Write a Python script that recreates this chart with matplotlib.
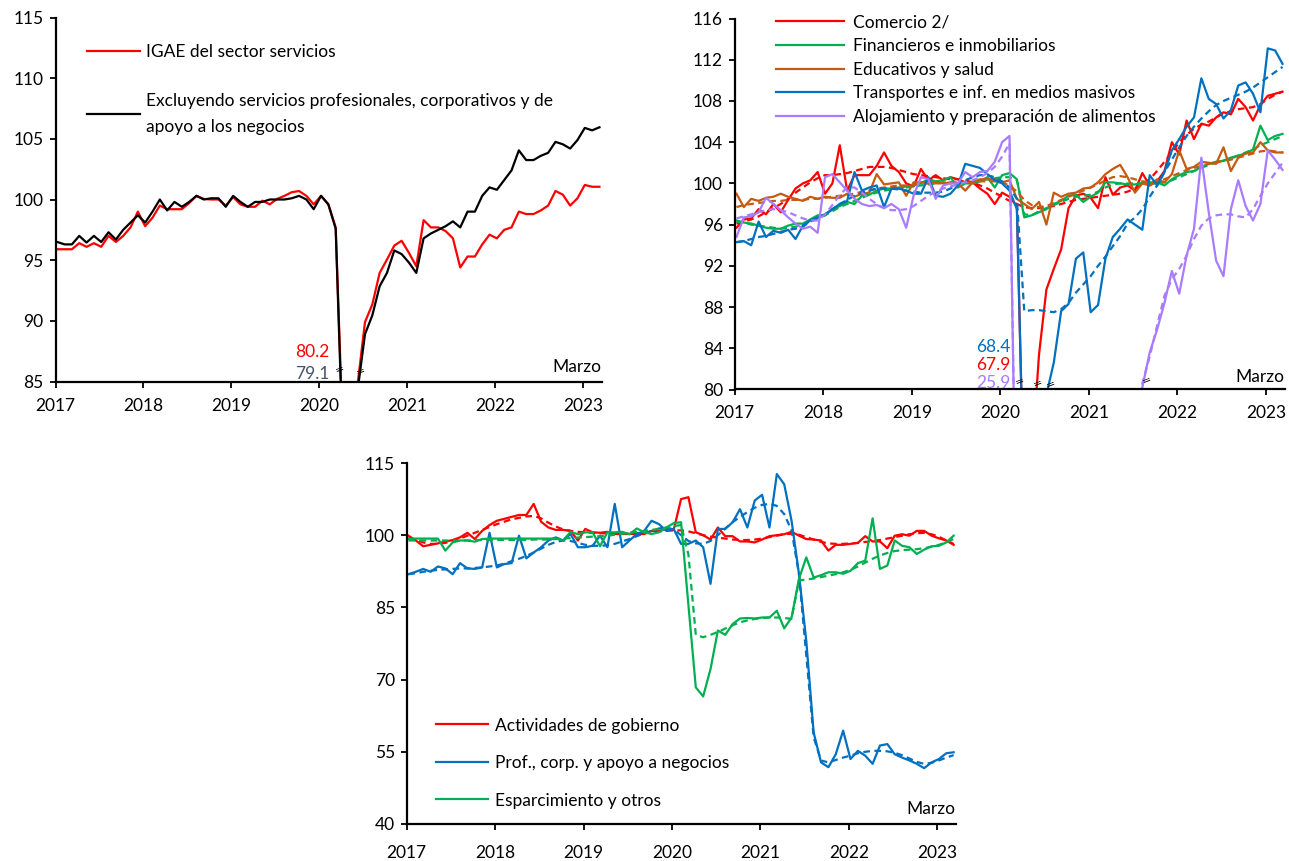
import numpy as np
import matplotlib
matplotlib.use("Agg")
import matplotlib.pyplot as plt

plt.rcParams['font.family'] = ['Lato', 'DejaVu Sans']

# ---------------- data (monthly, Jan 2017 .. Mar 2023) ----------------
years = [2017, 2018, 2019, 2020, 2021, 2022, 2023]
n_months = 75

# Panel 1
igae_servicios = [95.9, 95.9, 95.9, 96.4, 96.1, 96.4, 96.1, 97.0, 96.5, 97.0, 97.7, 99.0, 97.8, 98.5, 99.5, 99.2,
                  99.2, 99.2, 99.7, 100.3, 100.05, 100.0, 100.0, 99.5, 100.2, 99.6, 99.4, 99.4, 99.9, 99.6, 100.05,
                  100.3, 100.6, 100.7, 100.3, 99.6, 100.3, 99.6, 97.7,
                  80.2, 81.0, 84.8,
                  89.9, 91.35, 93.95, 95.05, 96.2, 96.6, 95.6, 94.5, 98.3, 97.7, 97.7, 97.4, 96.8, 94.4, 95.3, 95.3,
                  96.3, 97.1, 96.8, 97.5, 97.7, 99.0, 98.8, 98.8, 99.1, 99.5, 100.7, 100.4, 99.5, 100.1, 101.2,
                  101.05, 101.05]
excl_profesionales = [96.5, 96.3, 96.3, 97.0, 96.45, 97.0, 96.5, 97.3, 96.7, 97.5, 98.1, 98.7, 98.1, 99.0, 100.0,
                      99.1, 99.8, 99.4, 99.8, 100.3, 100.0, 100.1, 100.1, 99.4, 100.3, 99.8, 99.4, 99.8, 99.8, 100.0,
                      100.0, 100.0, 100.1, 100.3, 100.0, 99.2, 100.3, 99.6, 97.6,
                      79.1, 80.0, 84.3,
                      88.9, 90.45, 92.85, 93.95, 95.8, 95.5, 94.8, 93.95, 96.8, 97.2, 97.5, 97.8, 98.2, 97.7, 99.0,
                      99.0, 100.3, 101.0, 100.8, 101.6, 102.4, 104.05, 103.25, 103.25, 103.6, 103.85, 104.75, 104.55,
                      104.2, 104.9, 105.9, 105.7, 105.95]

# Panel 2
comercio = [95.7, 96.5, 96.6, 97.5, 97.0, 98.0, 97.2, 98.4, 99.5, 100.0, 100.3, 101.1, 99.0, 100.0, 103.7,
            99.3, 100.8, 100.8, 100.8, 101.7, 103.0, 101.7, 101.1, 100.0, 99.7, 101.4, 100.3, 100.8, 100.3, 100.6,
            100.4, 100.1, 100.1, 99.5, 99.0, 98.0, 99.1, 98.7, 97.8,
            67.9, 73.0, 83.4,
            89.7, 91.7, 93.6, 97.6, 98.8, 99.0, 98.6, 97.6, 100.6, 98.9, 99.6, 99.8, 99.3, 101.0, 99.8, 100.2, 101.2,
            104.0, 102.8, 106.1, 104.3, 105.8, 105.6, 106.4, 106.9, 106.7, 108.2, 107.4, 106.1, 107.6, 108.5, 108.7,
            108.9]
comercio_tend = [96.1, 96.3, 96.5, 96.8, 97.2, 97.6, 98.0, 98.5, 99.1, 99.6, 100.1, 100.5, 100.8, 100.8, 100.9,
                 101.0, 101.2, 101.4, 101.6, 101.6, 101.6, 101.5, 101.3, 101.1, 100.9, 100.8, 100.7, 100.6, 100.5,
                 100.4, 100.4, 100.3, 100.1, 99.8, 99.5, 99.1, 98.7, 98.3, 98.0,
                 97.7, 97.6, 97.6, 97.7, 97.8, 98.0, 98.2, 98.4, 98.5, 98.6, 98.7, 98.8, 98.9, 99.0, 99.2, 99.5, 99.9,
                 100.4, 101.2, 102.1,
                 103.0, 104.0, 104.7, 105.3, 105.7, 106.0, 106.4, 106.8, 107.0, 107.2, 107.3, 107.4, 107.7, 108.2,
                 108.6, 108.9]
financieros = [96.4, 96.2, 96.1, 95.9, 95.7, 95.6, 95.6, 95.9, 96.1, 96.1, 96.5, 96.9, 96.9, 97.5, 97.8, 98.2,
               98.0, 98.8, 98.9, 99.3, 99.5,
               99.5, 99.6, 99.7, 99.8, 100.0, 100.4, 100.2, 100.3, 100.6, 99.6, 100.0, 100.0, 100.2, 100.6, 99.6,
               100.8, 101.0, 100.4,
               96.7, 96.9, 97.2, 97.5, 98.0, 98.3, 98.8, 98.9, 98.2, 98.7, 99.1, 100.1, 100.1, 100.0, 99.9, 99.9,
               100.0, 100.1, 100.1, 99.8,
               100.4, 100.8, 101.1, 101.2, 101.6, 101.9, 102.1, 102.2, 102.5, 102.7, 102.9, 103.3, 105.6, 104.2,
               104.6, 104.8]
financieros_tend = [96.3, 96.2, 96.0, 95.9, 95.8, 95.7, 95.6, 95.7, 95.8, 96.0, 96.3, 96.6, 96.9, 97.3, 97.7, 98.0,
                    98.3, 98.6, 98.9, 99.1, 99.3, 99.4, 99.5, 99.6, 99.7, 99.8, 99.9, 100.0, 100.1, 100.1, 100.1,
                    100.1, 100.2, 100.3, 100.4, 100.5, 100.6, 100.6, 100.3,
                    97.0, 96.9, 97.3, 97.6, 97.9, 98.2, 98.5, 98.7, 98.8, 98.9, 99.2, 99.6, 99.9, 100.0, 100.0, 100.0,
                    100.0, 100.0, 100.0, 100.1,
                    100.3, 100.6, 100.9, 101.2, 101.5, 101.8, 102.0, 102.2, 102.4, 102.7, 103.0, 103.3, 103.7, 104.0,
                    104.3, 104.6]
educativos = [99.0, 97.7, 98.5, 98.3, 98.6, 98.7, 99.0, 98.7, 98.5, 98.3, 98.7, 98.5, 98.7, 98.6, 98.6, 99.0, 98.7,
              99.0, 99.1, 100.9, 99.9,
              100.0, 100.1, 98.8, 100.1, 100.1, 100.2, 100.1, 100.0, 100.1, 100.0, 99.3, 100.1, 100.4, 100.4, 100.4,
              100.1, 100.3, 98.5,
              98.0, 97.5, 98.2, 96.0, 99.1, 98.7, 99.0, 99.1, 99.5, 99.6, 100.1, 100.9, 101.4, 101.8, 100.6, 99.1,
              100.0, 99.8, 100.4, 100.1,
              100.9, 103.2, 101.4, 101.6, 102.1, 102.0, 101.9, 103.5, 101.2, 102.5, 102.9, 103.0, 104.0, 103.2, 103.0,
              103.0]
educativos_tend = [97.7, 97.9, 98.0, 98.1, 98.2, 98.3, 98.3, 98.4, 98.4, 98.4, 98.5, 98.5, 98.6, 98.7, 98.8, 98.9,
                   99.0, 99.2, 99.3, 99.5, 99.6, 99.7, 99.8, 99.8, 99.9, 99.9, 100.0, 100.0, 100.0, 100.0, 100.0,
                   100.1, 100.1, 100.2, 100.2, 100.2, 100.1, 99.8, 99.2,
                   98.4, 97.9, 97.7, 97.8, 98.1, 98.4, 98.7, 99.0, 99.3, 99.6, 99.9, 100.3, 100.6, 100.7, 100.6, 100.4,
                   100.2, 100.1, 100.2, 100.4,
                   100.7, 101.0, 101.3, 101.5, 101.7, 101.9, 102.0, 102.2, 102.3, 102.5, 102.7, 102.9, 103.1, 103.2,
                   103.1, 103.0]
transportes = [94.3, 94.4, 94.0, 96.3, 94.8, 95.4, 95.2, 95.5, 94.6, 95.9, 96.4, 96.7, 97.0, 97.5, 98.0, 98.3, 101.1,
               99.3, 99.6, 99.8, 97.7, 99.5, 99.5, 99.3, 99.0, 99.0, 100.6, 98.8, 98.7, 99.0, 99.8, 101.9, 101.7, 101.5,
               100.9, 100.3, 100.0, 99.3, 97.5,
               68.4, 70.0, 75.0, 79.5, 82.6,
               87.6, 88.3, 92.7, 93.3, 87.5, 88.2, 92.7, 94.8, 95.6, 96.5, 96.0, 95.5, 100.8, 99.8, 101.1,
               103.2, 104.3, 105.5, 106.4, 110.2, 108.2, 107.7, 106.3, 107.1, 109.5, 109.8, 108.7, 106.9, 113.1, 112.9,
               111.6]
transportes_tend = [94.3, 94.4, 94.6, 94.8, 94.9, 95.1, 95.3, 95.5, 95.6, 95.8, 96.3, 96.6, 97.0, 97.5, 98.0, 98.4,
                    98.8, 99.1, 99.3, 99.5, 99.5, 99.5, 99.4, 99.3, 99.2, 99.1, 99.1, 99.1, 99.2, 99.5, 99.9, 100.3,
                    100.6, 100.8, 100.8, 100.6, 100.2, 99.6, 98.5,
                    87.6, 87.7, 87.7, 87.6, 87.5, 87.8, 88.4, 89.4, 90.2, 91.0, 92.0, 92.9, 93.9, 94.9, 96.1, 96.7,
                    97.5, 98.7, 99.8, 101.1,
                    102.3, 103.5, 104.6, 105.5, 106.3, 107.0, 107.6, 108.0, 108.3, 108.6, 108.9, 109.3, 109.8, 110.3,
                    110.8, 111.3]
alojamiento = [94.8, 96.7, 96.8, 97.2, 98.6, 98.0, 97.4, 96.7, 96.1, 95.6, 95.8, 95.2, 100.6, 100.9, 100.1, 99.3,
               98.5, 98.0, 97.8, 97.9, 97.6, 98.0, 97.5, 95.7,
               98.8, 100.6, 100.4, 98.5, 99.8, 100.0, 100.0, 101.1, 100.6, 101.1, 101.2, 102.1, 104.0, 104.6, 60.0,
               25.9, 31.0, 42.0, 50.0, 56.0, 61.0, 66.0, 68.0, 66.0, 59.0, 62.0, 69.0, 72.0, 73.0, 76.0, 78.5,
               80.2, 83.6, 85.8, 88.4, 91.5, 89.3, 93.0, 95.6, 102.5, 97.2, 92.5, 91.0, 97.5, 100.3, 97.8, 96.4, 98.0,
               103.2, 102.3, 101.3]
alojamiento_tend = [96.6, 96.8, 97.0, 97.2, 97.4, 97.5, 97.4, 97.2, 96.9, 96.6, 96.4, 96.4, 97.0, 97.9, 98.9, 99.6,
                    99.6, 99.1, 98.5, 98.0, 97.6, 97.4, 97.4, 97.5, 97.8, 98.3, 98.8, 99.2, 99.5, 99.7, 99.9, 100.1,
                    100.3, 100.6, 101.0, 101.6, 102.6, 103.9, 62.0,
                    27.0, 32.0, 41.0, 49.0, 56.0, 61.0, 65.0, 66.0, 65.0, 63.0, 64.0, 68.0, 71.0, 73.0, 76.0, 78.0,
                    80.6, 83.2, 86.2, 89.1, 90.7, 91.7, 93.0, 94.6, 95.9, 96.6, 96.9, 97.0, 97.0, 96.8, 96.7, 97.5,
                    98.8, 100.0, 101.0, 102.0]

# Panel 3
gobierno = [99.9, 98.9, 97.7, 98.0, 98.3, 98.65, 99.0, 99.55, 100.5, 99.2, 100.9, 102.1, 103.0, 103.4, 103.8, 104.2,
            104.2, 106.5, 102.8, 101.6, 101.1, 101.1, 100.9, 98.9, 101.3, 100.6, 100.5, 100.7, 100.25, 100.25,
            100.25, 100.25, 100.25, 100.9, 100.9, 101.3, 101.1, 107.5, 107.9,
            100.6, 100.0, 99.1, 101.6, 99.8, 99.8, 98.7, 98.7, 98.5, 99.1, 99.8, 100.0, 100.2, 100.7, 99.9, 99.2,
            99.1, 98.9, 96.8, 98.0, 98.0, 98.2, 98.4, 99.8, 98.7, 98.7, 97.3, 99.9, 100.2, 99.9, 100.9, 100.9, 99.9,
            99.35, 98.9, 98.0]
gobierno_tend = [99.5, 99.0, 98.5, 98.2, 98.2, 98.4, 98.8, 99.3, 99.9, 100.5, 101.1, 101.7, 102.3, 102.8, 103.3,
                 103.6, 103.9, 104.0, 103.5, 102.6, 101.8, 101.2, 100.9, 100.7, 100.6, 100.5, 100.4, 100.4, 100.3,
                 100.3, 100.3, 100.4, 100.5, 100.6, 100.8, 100.9, 101.0, 101.0, 100.8,
                 100.4, 100.0, 99.7, 99.5, 99.3, 99.1, 99.0, 99.0, 99.1, 99.3, 99.6, 99.9, 100.2, 100.3, 100.1, 99.6,
                 99.1, 98.6, 98.3, 98.2, 98.2, 98.3, 98.4, 98.6, 98.8, 99.0, 99.3, 99.6, 99.9, 100.2, 100.4, 100.5,
                 100.2, 99.7, 98.9, 98.2]
profesionales = [91.9, 92.4, 93.0, 92.4, 93.5, 93.1, 91.9, 94.2, 93.1, 93.0, 93.3, 100.5, 93.3, 94.0, 94.2, 99.9,
                 95.2, 96.4, 97.5, 98.9, 99.55, 98.9, 100.25, 97.5, 97.5, 97.8, 99.9, 97.5, 106.5, 97.5, 98.9, 100.25,
                 100.9, 103.0, 102.3, 100.9, 101.3, 98.2, 98.2,
                 98.9, 97.5, 89.9, 101.3, 101.3, 102.7, 105.4, 101.6, 107.2, 108.4, 101.6, 112.7, 110.6, 103.0, 92.0,
                 78.0, 59.0, 52.8, 51.8, 54.5, 59.4, 53.5, 55.2, 54.2, 52.5, 56.3, 56.6, 54.5, 53.8, 53.2, 52.5, 51.6,
                 52.8, 53.5, 54.7, 54.9]
profesionales_tend = [91.9, 92.1, 92.4, 92.6, 92.8, 92.9, 93.0, 93.1, 93.1, 93.2, 93.3, 93.5, 93.7, 94.1, 94.6,
                      95.1, 95.7, 96.4, 97.2, 98.0, 98.6, 98.9, 98.8, 98.4, 98.0, 97.8, 97.8, 97.9, 98.2, 98.7, 99.2,
                      99.8, 100.4, 100.9, 101.4, 101.6, 101.2, 100.0, 98.8,
                      98.3, 98.2, 98.8, 100.0, 101.4, 102.7, 103.8, 104.8, 105.7, 106.3, 106.5, 106.1, 104.4, 101.0,
                      92.0, 75.0, 58.0, 53.2, 52.8, 53.3, 53.8, 54.2, 54.7, 55.0, 55.2, 55.2, 55.1, 54.8, 54.3, 53.6,
                      52.9, 52.5, 52.7, 53.2, 53.8, 54.3]
esparcimiento = [99.2, 99.3, 99.3, 99.3, 99.3, 96.8, 98.5, 98.9, 98.9, 98.65, 99.2, 99.3, 99.3, 99.3, 99.3, 99.3,
                 99.3, 99.3, 99.3, 99.3, 99.3, 98.9, 100.7, 100.2, 100.6, 100.6, 97.7, 100.6, 100.6, 100.7, 100.2,
                 101.4, 100.6, 100.25, 100.6, 101.6, 102.5, 102.7, 85.5,
                 68.4, 66.5, 72.2, 80.2, 79.3, 81.55, 82.7, 82.8, 82.7, 82.9, 82.9, 84.3, 80.65, 82.9, 90.9, 95.4,
                 91.2, 91.7, 92.3, 92.3, 92.0, 92.6, 94.2, 94.7, 103.5, 93.0, 93.7, 98.9, 97.8, 97.5, 96.1, 97.0, 97.7,
                 97.8, 98.5, 99.9]
esparcimiento_tend = [98.9, 98.9, 98.9, 98.9, 98.9, 98.9, 98.9, 98.9, 98.9, 99.0, 99.0, 99.0, 99.0, 99.0, 99.0,
                      99.0, 99.0, 99.1, 99.1, 99.1, 99.2, 99.3, 99.4, 99.5, 99.6, 99.7, 99.8, 99.9, 100.1, 100.3,
                      100.5, 100.7, 100.9, 101.1, 101.3, 101.6, 101.9, 102.1, 96.0,
                      79.3, 78.8, 79.3, 79.9, 80.6, 81.3, 81.9, 82.3, 82.6, 82.8, 82.9, 82.9, 82.8, 82.6, 90.6, 90.8,
                      91.0, 91.3, 91.6, 91.9, 92.3, 92.8, 93.5, 94.3, 95.1, 95.8, 96.3, 96.7, 96.9, 97.0, 97.1, 97.3,
                      97.6, 98.0, 98.5, 99.2]

# ---------------- styling ----------------
RED = '#FF0000'
BLACK = '#000000'
GREEN = '#00B050'
BROWN = '#C55A11'
BLUE = '#0070C0'
PURPLE = '#A97BFF'
SLATE = '#44546A'
FS = 12.5
LW = 1.6
DASH = (0, (3, 2))

x = 2017 + np.arange(n_months) / 12.0 + 0.02

fig = plt.figure(figsize=(12.89, 8.61), dpi=100)
W, H = 1289.0, 861.0


def make_ax(left, right, top, bottom):
    return fig.add_axes([left / W, 1 - bottom / H, (right - left) / W, (bottom - top) / H])


def style(ax, ylim, yticks, xpad):
    ax.set_xlim(2017, 2023.21)
    ax.set_ylim(*ylim)
    ax.set_yticks(yticks)
    ax.set_xticks(years)
    ax.set_xticklabels([str(y) for y in years])
    for s in ['top', 'right']:
        ax.spines[s].set_visible(False)
    for s in ['left', 'bottom']:
        ax.spines[s].set_linewidth(1.6)
        ax.spines[s].set_zorder(5)
    ax.tick_params(axis='both', direction='out', length=4.5, width=1.3, labelsize=FS)
    ax.tick_params(axis='y', pad=4)
    ax.tick_params(axis='x', pad=xpad)
    ax.patch.set_alpha(0)


def brk(ax, xx, yy):
    ax.text(xx, yy, '=', fontsize=8, rotation=20, ha='center', va='center', color='black',
            family='DejaVu Sans', zorder=6)


# ---------------- Panel 1 ----------------
ax1 = make_ax(55.5, 601.5, 17.5, 381.5)
style(ax1, (85, 115), np.arange(85, 116, 5), 7.5)
ax1.plot(x, igae_servicios, color=RED, lw=LW, label='IGAE del sector servicios')
ax1.plot(x, excl_profesionales, color=BLACK, lw=LW,
         label='Excluyendo servicios profesionales, corporativos y de\napoyo a los negocios')
leg1 = ax1.legend(loc='upper left', bbox_to_anchor=(0.057, 0.927), frameon=False, fontsize=FS,
                  handlelength=3.05, handletextpad=0.35, labelspacing=1.9, borderpad=0, borderaxespad=0)
for t in leg1.get_texts():
    t.set_linespacing(1.75)
ax1.text(2020.12, 87.45, '80.2', color=RED, fontsize=FS, ha='right', va='center')
ax1.text(2020.12, 85.65, '79.1', color=SLATE, fontsize=FS, ha='right', va='center')
ax1.text(1.0, 0.018, 'Marzo', transform=ax1.transAxes, fontsize=FS, ha='right', va='bottom')
brk(ax1, 2020.24, 86.0)
brk(ax1, 2020.47, 85.8)

# ---------------- Panel 2 ----------------
ax2 = make_ax(734.7, 1284.6, 18.5, 389.5)
style(ax2, (80, 116), np.arange(80, 117, 4), 6.5)
series2 = [
    (comercio, comercio_tend, RED, 'Comercio 2/'),
    (financieros, financieros_tend, GREEN, 'Financieros e inmobiliarios'),
    (educativos, educativos_tend, BROWN, 'Educativos y salud'),
    (transportes, transportes_tend, BLUE, 'Transportes e inf. en medios masivos'),
    (alojamiento, alojamiento_tend, PURPLE, 'Alojamiento y preparación de alimentos'),
]
for vals, tend, col, lab in series2:
    ax2.plot(x, vals, color=col, lw=LW, label=lab)
    ax2.plot(x, tend, color=col, lw=LW, linestyle=DASH)
handles, labels = ax2.get_legend_handles_labels()
ax2.legend(handles, labels, loc='upper left', bbox_to_anchor=(0.076, 1.012), frameon=False, fontsize=FS,
           handlelength=3.9, handletextpad=0.52, labelspacing=0.45, borderpad=0, borderaxespad=0)
ax2.text(2020.12, 84.15, '68.4', color=BLUE, fontsize=FS, ha='right', va='center')
ax2.text(2020.12, 82.4, '67.9', color=RED, fontsize=FS, ha='right', va='center')
ax2.text(2020.12, 80.6, '25.9', color=PURPLE, fontsize=FS, ha='right', va='center')
ax2.text(1.0, 0.012, 'Marzo', transform=ax2.transAxes, fontsize=FS, ha='right', va='bottom')
brk(ax2, 2020.22, 80.8)
brk(ax2, 2020.42, 80.6)
brk(ax2, 2020.57, 80.45)
brk(ax2, 2021.655, 80.9)

# ---------------- Panel 3 ----------------
ax3 = make_ax(406.7, 955.7, 463, 824)
style(ax3, (40, 115), np.arange(40, 116, 15), 10.5)
series3 = [
    (gobierno, gobierno_tend, RED, 'Actividades de gobierno'),
    (profesionales, profesionales_tend, BLUE, 'Prof., corp. y apoyo a negocios'),
    (esparcimiento, esparcimiento_tend, GREEN, 'Esparcimiento y otros'),
]
for vals, tend, col, lab in series3:
    ax3.plot(x, vals, color=col, lw=LW, label=lab)
    ax3.plot(x, tend, color=col, lw=LW, linestyle=DASH)
handles, labels = ax3.get_legend_handles_labels()
ax3.legend(handles, labels, loc='upper left', bbox_to_anchor=(0.053, 0.295), frameon=False, fontsize=FS,
           handlelength=3.0, handletextpad=0.4, labelspacing=1.24, borderpad=0, borderaxespad=0)
ax3.text(1.0, 0.02, 'Marzo', transform=ax3.transAxes, fontsize=FS, ha='right', va='bottom')

fig.savefig('out.png', dpi=100)
